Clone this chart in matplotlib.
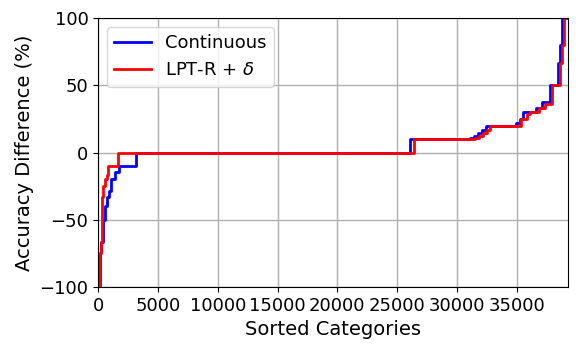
import matplotlib
matplotlib.use("Agg")
import matplotlib.pyplot as plt

# step breakpoints (sorted category index) and accuracy difference levels
cont_x = [0, 160, 230, 370, 570, 740, 930, 1070, 1400, 1750, 3150, 26100, 31100,
          31450, 31800, 32100, 32400, 34950, 35270, 35550, 36650, 37080,
          37780, 38470, 38650, 38800, 39260]
cont_y = [-100, -75, -66.7, -50, -40, -33.3, -28.6, -20, -14.3, -10, 0, 10, 11.1,
          12.5, 14.3, 16.7, 20, 22.2, 25, 30, 33.3, 37.5, 50, 66.7, 80, 100, 100]

lpt_x = [0, 150, 220, 280, 330, 420, 560, 700, 790, 1625, 26450, 31500, 31850,
         32200, 32500, 32750, 35400, 35820, 36100, 36900, 37350, 37950,
         38650, 38800, 38950, 39260]
lpt_y = [-100, -75, -66.7, -50, -33.3, -25, -20, -16.7, -10, 0, 10, 11.1, 12.5,
         14.3, 16.7, 20, 25, 28.6, 30, 33.3, 36.4, 50, 66.7, 80, 100, 100]

plt.rcParams['font.size'] = 13

fig = plt.figure(figsize=(5.81, 3.54), dpi=100)
ax = fig.add_axes([0.169, 0.189, 0.808, 0.760])
ax.step(cont_x, cont_y, where='post', color='blue', lw=2, label='Continuous')
ax.step(lpt_x, lpt_y, where='post', color='red', lw=2, label=r'LPT-R + $\delta$')
ax.set_xlim(0, 39260)
ax.set_ylim(-100, 100)
ax.set_xticks(range(0, 39000, 5000))
ax.set_yticks([-100, -50, 0, 50, 100])
ax.grid(True, color='#b0b0b0', lw=1)
ax.set_xlabel('Sorted Categories', fontsize=14)
ax.set_ylabel('Accuracy Difference (%)', fontsize=14)
ax.legend(loc='upper left', fontsize=13)

plt.savefig('out.png', dpi=100)
